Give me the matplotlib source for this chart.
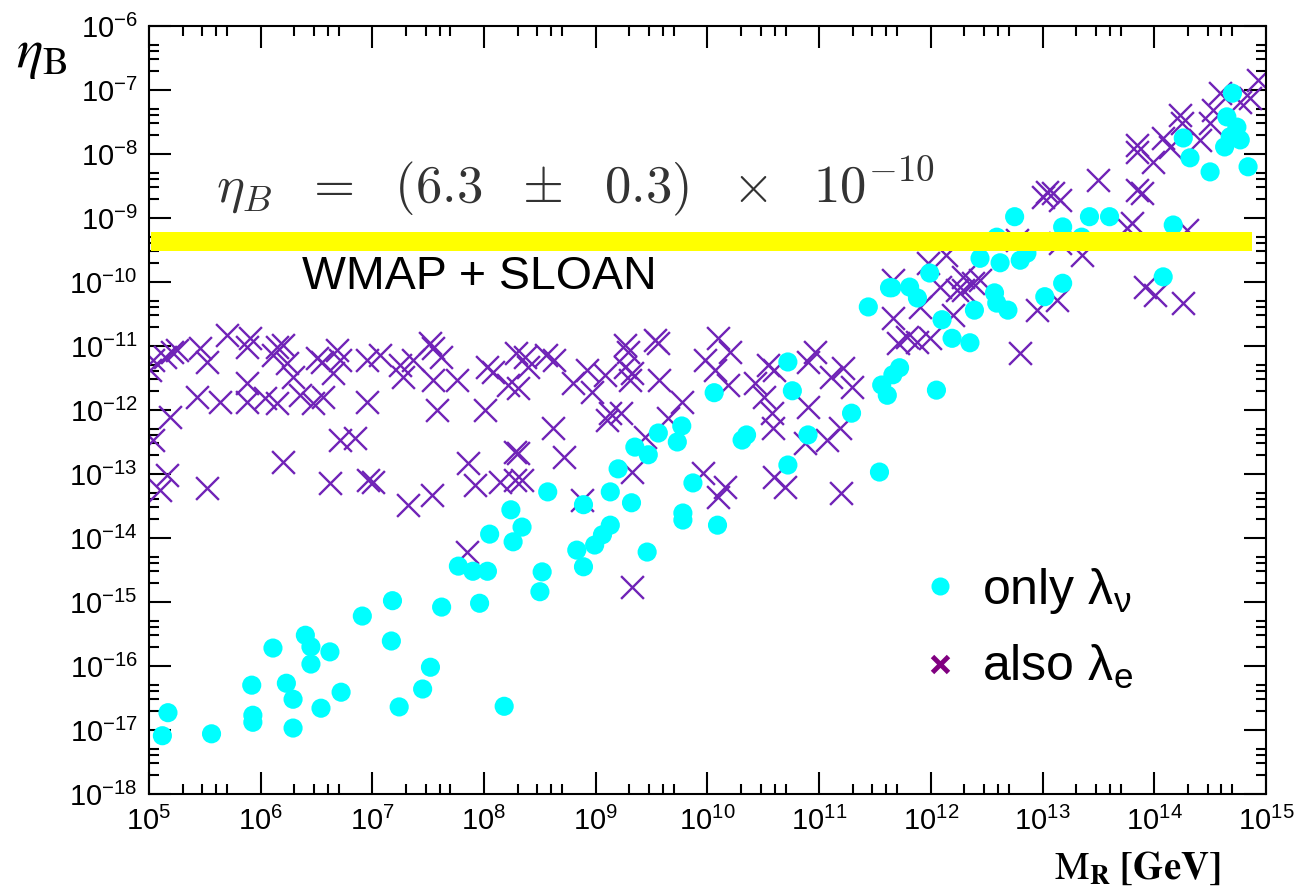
import numpy as np
import matplotlib
matplotlib.use("Agg")
import matplotlib.pyplot as plt
from matplotlib.ticker import LogLocator, LogFormatterMathtext, NullFormatter
from matplotlib.lines import Line2D

plt.rcParams['font.family'] = ['Liberation Sans', 'DejaVu Sans']
plt.rcParams['mathtext.fontset'] = 'custom'
plt.rcParams['mathtext.rm'] = 'Liberation Sans'
plt.rcParams['mathtext.it'] = 'Liberation Sans:italic'
plt.rcParams['mathtext.bf'] = 'Liberation Sans:bold'

# log10(M_R / GeV) and log10(eta_B)
# cyan dots: only lambda_nu
only_nu_logM = [
    5.17, 5.12, 5.56, 5.92, 5.93, 5.93, 6.11, 6.23, 6.29, 6.29,
    6.40, 6.45, 6.45, 6.62, 6.54, 6.72, 6.91, 7.18, 7.17, 7.24,
    7.52, 7.45, 7.62, 7.77, 7.90, 8.03, 7.96, 8.05, 8.26, 8.34,
    8.18, 8.24, 9.13, 9.06, 8.99, 8.83, 8.89, 8.52, 8.50, 9.46,
    9.78, 10.09, 11.65, 11.44, 10.72, 10.76, 10.06, 11.29, 9.77, 9.56,
    9.73, 10.35, 10.31, 10.90, 9.35, 9.47, 10.72, 9.20, 9.87, 11.54,
    8.57, 9.13, 9.32, 8.89, 9.78, 11.56, 11.66, 11.72, 11.61, 12.05,
    14.70, 14.65, 14.74, 14.68, 14.77, 14.63, 14.26, 14.32, 14.50, 14.84,
    12.75, 13.18, 13.42, 13.60, 14.17, 12.59, 13.35, 12.44, 12.62, 12.80,
    12.86, 11.99, 11.63, 11.81, 11.88, 12.57, 12.59, 12.69, 12.39, 13.02,
    13.18, 14.08, 12.10, 12.19, 12.35,
]
only_nu_logeta = [
    -16.73, -17.09, -17.06, -16.30, -16.77, -16.88, -15.72, -16.27, -16.52, -16.97,
    -15.52, -15.70, -15.97, -15.78, -16.66, -16.41, -15.22, -14.98, -15.61, -16.64,
    -16.02, -16.36, -15.08, -14.44, -14.52, -14.52, -15.02, -13.94, -14.06, -13.83,
    -16.63, -13.56, -13.80, -13.95, -14.11, -14.19, -14.45, -14.53, -14.84, -14.22,
    -13.72, -13.80, -10.09, -10.39, -11.25, -11.70, -11.73, -12.05, -12.25, -12.36,
    -12.50, -12.39, -12.47, -12.39, -12.58, -12.70, -12.86, -12.92, -13.14, -12.97,
    -13.28, -13.28, -13.45, -13.48, -13.61, -11.61, -11.45, -11.34, -11.77, -11.69,
    -7.05, -7.42, -7.58, -7.73, -7.78, -7.89, -7.75, -8.06, -8.28, -8.20,
    -8.98, -9.14, -8.98, -8.98, -9.11, -9.30, -9.30, -9.63, -9.70, -9.66,
    -9.55, -9.86, -10.09, -10.08, -10.25, -10.17, -10.33, -10.44, -10.44, -10.23,
    -10.02, -9.92, -10.59, -10.88, -10.95,
]

# purple crosses: also lambda_e
also_e_logM = [
    5.21, 5.25, 5.14, 5.01, 5.04, 5.46, 5.52, 5.70, 5.90, 5.88,
    6.15, 6.20, 6.11, 6.24, 6.29, 6.50, 6.55, 6.68, 6.71, 6.65,
    6.95, 7.07, 7.25, 7.27, 7.36, 7.52, 7.54, 7.61, 7.54, 7.76,
    8.03, 8.08, 8.21, 8.29, 5.19, 5.43, 5.64, 5.88, 5.88, 6.04,
    6.15, 6.35, 6.47, 6.56, 6.95, 7.58, 8.01, 5.04, 6.71, 6.84,
    6.20, 7.86, 8.28, 5.16, 5.10, 5.52, 6.62, 6.96, 7.01, 7.32,
    7.53, 7.92, 8.14, 8.28, 7.85, 9.32,
    8.37, 8.30, 8.55, 8.63, 8.39, 8.80, 8.92, 8.97, 9.08, 9.26,
    9.29, 9.26, 9.32, 9.31, 9.53, 9.56, 9.57, 9.77, 9.65, 9.13,
    9.23, 9.10, 8.62, 9.44, 8.30, 8.72, 8.34, 9.32, 8.88, 10.09,
    10.20, 9.98, 10.07, 10.18, 10.43, 10.60, 10.54, 10.51, 10.58, 10.59,
    10.90, 10.96, 11.11, 11.21, 11.29, 10.90, 10.87, 11.07, 11.19, 9.96,
    10.16, 10.09, 10.60, 10.69, 11.20, 11.66, 11.71,
    14.77, 14.86, 14.53, 14.23, 14.25, 14.08, 14.41, 14.50, 13.85, 13.85,
    13.99, 14.14, 13.50, 13.85, 13.89, 13.00, 13.09, 13.16, 13.04, 13.80,
    13.76, 14.29, 13.16, 13.35, 12.77, 12.14, 11.97, 12.29, 12.38, 12.44,
    12.08, 12.23, 12.29, 11.66, 11.90, 12.20, 12.95, 13.13, 11.79, 11.88,
    11.99, 12.80, 13.92, 14.01, 14.26, 14.93, 14.59,
]
also_e_logeta = [
    -11.09, -11.06, -11.17, -11.38, -11.22, -11.03, -11.25, -10.83, -10.88, -11.02,
    -11.02, -10.98, -11.14, -11.27, -11.48, -11.19, -11.25, -11.06, -11.22, -11.42,
    -11.22, -11.14, -11.30, -11.48, -11.22, -10.95, -11.03, -11.17, -11.53, -11.53,
    -11.33, -11.41, -11.61, -11.11, -12.11, -11.80, -11.88, -11.58, -11.88, -11.81,
    -11.89, -11.77, -11.89, -11.80, -11.88, -12.00, -12.00, -12.47, -12.47, -12.44,
    -12.81, -12.83, -12.66, -13.02, -13.25, -13.22, -13.14, -13.09, -13.13, -13.48,
    -13.33, -13.17, -13.13, -13.09, -14.22, -14.77,
    -11.17, -11.66, -11.14, -11.22, -11.33, -11.58, -11.38, -11.72, -11.45, -10.98,
    -11.09, -11.33, -11.42, -11.53, -10.91, -10.95, -11.53, -11.88, -12.13, -12.05,
    -12.05, -12.16, -12.28, -12.42, -12.67, -12.73, -13.09, -12.97, -13.41, -10.88,
    -11.09, -11.22, -11.38, -11.61, -11.58, -11.38, -11.30, -11.80, -12.05, -12.28,
    -11.25, -11.09, -11.48, -11.34, -11.64, -11.95, -12.52, -12.47, -12.28, -12.98,
    -13.20, -13.36, -13.05, -13.20, -13.30, -10.56, -10.95,
    -7.19, -7.13, -7.31, -7.39, -7.52, -7.75, -7.78, -7.52, -7.86, -7.97,
    -8.13, -7.89, -8.41, -8.56, -8.61, -8.67, -8.61, -8.72, -8.59, -9.08,
    -9.16, -9.19, -9.39, -9.58, -9.34, -9.58, -9.70, -9.92, -10.02, -9.97,
    -10.08, -10.13, -10.13, -9.97, -10.39, -10.52, -10.44, -10.28, -10.86, -10.94,
    -10.88, -11.11, -10.08, -10.20, -10.33, -6.84, -7.05,
]

# WMAP + SLOAN band
band_low, band_high = 3.0e-10, 6.0e-10
band_xmin, band_xmax = 1.05e5, 7.5e14

fig = plt.figure(figsize=(13, 8.93), dpi=100)
ax = fig.add_axes([0.1146, 0.1109, 0.8592, 0.8600])

ax.scatter(10 ** np.array(also_e_logM), 10 ** np.array(also_e_logeta),
           marker='x', s=270, color='#7023B7', linewidths=1.7, zorder=2)
ax.scatter(10 ** np.array(only_nu_logM), 10 ** np.array(only_nu_logeta),
           marker='o', s=190, color='#00FFFF', edgecolors='none', zorder=3)

ax.fill_between([band_xmin, band_xmax], band_low, band_high,
                color='#FFFF00', lw=0, zorder=4)

ax.set_xscale('log')
ax.set_yscale('log')
ax.set_xlim(1e5, 1e15)
ax.set_ylim(1e-18, 1e-6)

for axis in (ax.xaxis, ax.yaxis):
    axis.set_major_locator(LogLocator(base=10, numticks=20))
    axis.set_minor_locator(LogLocator(base=10, subs=[2, 3, 4, 5], numticks=20))
    axis.set_major_formatter(LogFormatterMathtext())
    axis.set_minor_formatter(NullFormatter())

ax.tick_params(which='both', direction='in', top=True, right=True, width=1.5,
               labelsize=21, colors='black')
ax.tick_params(which='major', length=16)
ax.tick_params(which='minor', length=7)
ax.tick_params(axis='y', pad=8)
ax.tick_params(axis='x', pad=9)
for sp in ax.spines.values():
    sp.set_linewidth(1.5)

ax.text(0.382, 0.792,
        r'$\eta_B\ \ =\ \ (6.3\ \ \pm\ \ 0.3)\ \ \times\ \ 10^{-10}$',
        transform=ax.transAxes, ha='center', va='center', fontsize=38,
        color='#333333', math_fontfamily='cm')
ax.text(0.137, 0.673, 'WMAP + SLOAN', transform=ax.transAxes,
        ha='left', va='center', fontsize=33.5)

handles = [
    Line2D([], [], ls='', marker='o', ms=13, color='#00FFFF', mec='none'),
    Line2D([], [], ls='', marker='x', ms=11, mew=3.5, color='#800080'),
]
ax.legend(handles, [r'only $\mathregular{\lambda_\nu}$', r'also $\mathregular{\lambda_e}$'],
          loc='upper left', bbox_to_anchor=(0.69, 0.297), frameon=False,
          fontsize=36, handlelength=0.8, handletextpad=0.45, labelspacing=0.55,
          borderaxespad=0, borderpad=0)

fig.text(16 / 1300, 1 - 55 / 893, r'$\eta_{\mathrm{B}}$', fontsize=40,
         ha='left', va='center', math_fontfamily='stix')
fig.text(1137 / 1300, 1 - 868 / 893, r'$\mathrm{M}_{\mathbf{R}}\ \mathbf{[GeV]}$',
         fontsize=28, ha='center', va='center', math_fontfamily='stix')

fig.savefig('out.png', dpi=100)
